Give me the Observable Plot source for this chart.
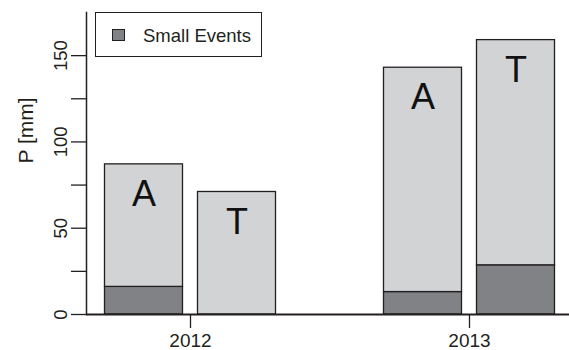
<!DOCTYPE html>
<html>
<head>
<meta charset="utf-8">
<script src="https://cdn.jsdelivr.net/npm/d3@7"></script>
<script src="https://cdn.jsdelivr.net/npm/@observablehq/plot@0.6"></script>
<style>
  html, body { margin: 0; padding: 0; background: #fff; }
  #wrap { position: relative; width: 569px; height: 350px; font-family: "Liberation Sans", Arial, Helvetica, sans-serif; }
  #legend { position: absolute; left: 95px; top: 12px; width: 165px; height: 43px; border: 1.3px solid #231f20; background: #fff; }
  #legend .sw { position: absolute; left: 16px; top: 16px; width: 11px; height: 10px; border: 1.3px solid #231f20; background: #808285; }
  #legend .lb { position: absolute; left: 47px; top: 13px; font-size: 18.5px; line-height: 20px; color: #231f20; white-space: nowrap; }
</style>
</head>
<body>
<div id="wrap"></div>
<script>
const years = ["2012", "2013"];
const sites = ["A", "T"];
const totalValues = [[87, 71], [143, 159]];   // total P [mm] per year (rows) and site (cols)
const smallValues = [[16, 0], [13, 28.5]];    // small-event P [mm]
const yTicks = [0, 25, 50, 75, 100, 125, 150];
const parts = ["Small Events", "Other"];
const yTitle = "P [mm]";

const rows = [];
const totals = [];
years.forEach((yr, i) => sites.forEach((s, j) => {
  rows.push({year: yr, site: s, part: parts[0], value: smallValues[i][j]});
  rows.push({year: yr, site: s, part: parts[1], value: totalValues[i][j] - smallValues[i][j]});
  totals.push({year: yr, site: s, total: totalValues[i][j]});
}));

const ink = "#231f20";
const siteShift = {A: -46.5, T: 46.5};   // side-by-side offset of each site within a year group (px)

const siteMarks = sites.flatMap(s => [
  Plot.barY(rows.filter(d => d.site === s), {x: "year", y: "value", fill: "part", dx: siteShift[s], stroke: ink, strokeWidth: 1.3}),
  Plot.text(totals.filter(d => d.site === s), {x: "year", y: "total", text: "site", dx: siteShift[s], dy: 30, fontSize: 36, fill: "#111"})
]);

const chart = Plot.plot({
  width: 569,
  height: 350,
  marginLeft: 86,
  marginRight: 0,
  marginTop: 12,
  marginBottom: 36,
  style: {fontFamily: "'Liberation Sans', Arial, Helvetica, sans-serif", fontSize: "18px", color: ink, background: "#fff"},
  x: {domain: years, range: [86, 573], paddingInner: 0.7213, paddingOuter: 0.2304, label: null},
  y: {domain: [0, 175], label: null},
  color: {domain: parts, range: ["#808285", "#d1d3d4"]},
  marks: [
    ...siteMarks,
    Plot.ruleY([0], {stroke: ink, strokeWidth: 2}),
    Plot.frame({anchor: "left", stroke: ink, strokeWidth: 1.5}),
    Plot.axisY({ticks: yTicks, tickFormat: d => d % 50 === 0 ? String(d) : "", tickSize: 15, tickPadding: 5, tickRotate: -90, stroke: ink, strokeWidth: 1.3, fill: ink, fontSize: 18.5, label: null}),
    Plot.text([yTitle], {frameAnchor: "left", dx: -60, rotate: -90, fontSize: 21, fill: ink}),
    Plot.axisX({tickSize: 14, tickPadding: 5, stroke: ink, strokeWidth: 1.3, fill: ink, fontSize: 19, label: null})
  ]
});
const wrap = document.getElementById("wrap");
wrap.appendChild(chart);
const lg = document.createElement("div");
lg.id = "legend";
lg.innerHTML = '<div class="sw"></div><div class="lb">' + parts[0] + '</div>';
wrap.appendChild(lg);
</script>
</body>
</html>
